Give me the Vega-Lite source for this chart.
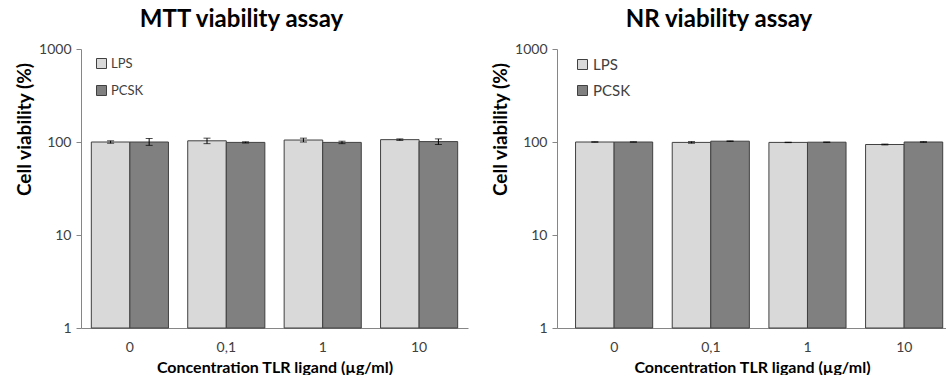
{
  "$schema": "https://vega.github.io/schema/vega-lite/v6.json",
  "padding": {"left": 15, "top": 8, "right": 0, "bottom": 0},
  "config": {
    "font": "Lato",
    "view": {"stroke": null},
    "concat": {"spacing": 23},
    "axis": {"grid": false, "domainColor": "#868686", "tickColor": "#868686", "labelColor": "#404040", "labelFontSize": 14, "titleFontSize": 16, "titleFontWeight": "bold", "titleColor": "#000000"}
  },
  "datasets": {
    "mtt": [
      {"conc": "0", "treat": "LPS", "v": 100, "lo": 97, "hi": 103},
      {"conc": "0", "treat": "PCSK", "v": 100, "lo": 92, "hi": 109},
      {"conc": "0,1", "treat": "LPS", "v": 103, "lo": 96, "hi": 110},
      {"conc": "0,1", "treat": "PCSK", "v": 99, "lo": 97.5, "hi": 100.5},
      {"conc": "1", "treat": "LPS", "v": 105, "lo": 100, "hi": 110},
      {"conc": "1", "treat": "PCSK", "v": 99, "lo": 96, "hi": 102},
      {"conc": "10", "treat": "LPS", "v": 106, "lo": 104, "hi": 108},
      {"conc": "10", "treat": "PCSK", "v": 101, "lo": 94, "hi": 108}
    ],
    "nr": [
      {"conc": "0", "treat": "LPS", "v": 100, "lo": 99.5, "hi": 100.5},
      {"conc": "0", "treat": "PCSK", "v": 100, "lo": 99.7, "hi": 100.3},
      {"conc": "0,1", "treat": "LPS", "v": 99, "lo": 97, "hi": 101},
      {"conc": "0,1", "treat": "PCSK", "v": 102, "lo": 101.2, "hi": 102.8},
      {"conc": "1", "treat": "LPS", "v": 99, "lo": 98.5, "hi": 99.5},
      {"conc": "1", "treat": "PCSK", "v": 99.5, "lo": 99, "hi": 100},
      {"conc": "10", "treat": "LPS", "v": 94, "lo": 93, "hi": 95},
      {"conc": "10", "treat": "PCSK", "v": 100, "lo": 99.2, "hi": 100.8}
    ]
  },
  "resolve": {"scale": {"color": "independent"}, "legend": {"color": "independent"}},
  "hconcat": [
    {
      "width": 387,
      "height": 279,
      "title": {"text": "MTT viability assay", "frame": "bounds", "anchor": "middle", "fontSize": 24, "fontWeight": "bold", "offset": 10, "color": "#000000"},
      "data": {"name": "mtt"},
      "encoding": {
        "x": {"field": "conc", "type": "nominal", "sort": ["0", "0,1", "1", "10"], "scale": {"paddingInner": 0.2, "paddingOuter": 0.107},
              "axis": {"title": "Concentration TLR ligand (µg/ml)", "labelAngle": 0, "ticks": false, "labelPadding": 12, "titlePadding": 5}},
        "xOffset": {"field": "treat", "type": "nominal", "sort": ["LPS", "PCSK"], "scale": {"paddingInner": 0, "paddingOuter": 0}}
      },
      "layer": [
        {
          "mark": {"type": "bar", "stroke": "#404040", "strokeWidth": 1},
          "encoding": {
            "y": {"field": "v", "type": "quantitative", "scale": {"type": "log", "domain": [1, 1000]},
                  "axis": {"values": [1, 10, 100, 1000], "format": "d", "title": "Cell viability (%)", "titleFontSize": 19, "tickSize": 5, "labelPadding": 5, "titleX": -47, "titleY": 80}},
            "y2": {"datum": 1},
            "color": {"field": "treat", "type": "nominal", "sort": ["LPS", "PCSK"], "scale": {"domain": ["LPS", "PCSK"], "range": ["#d9d9d9", "#808080"]},
                      "legend": {"title": null, "orient": "none", "legendX": 14, "legendY": 8, "symbolType": "square", "symbolSize": 100, "symbolStrokeColor": "#404040", "symbolStrokeWidth": 1, "labelFontSize": 13, "labelColor": "#404040", "rowPadding": 12, "padding": 0, "labelOffset": 3}}
          }
        },
        {
          "mark": {"type": "rule", "color": "#000000", "strokeWidth": 1},
          "encoding": {"y": {"field": "lo", "type": "quantitative"}, "y2": {"field": "hi"}}
        },
        {
          "mark": {"type": "tick", "color": "#000000", "size": 7, "thickness": 1},
          "encoding": {"y": {"field": "lo", "type": "quantitative"}}
        },
        {
          "mark": {"type": "tick", "color": "#000000", "size": 7, "thickness": 1},
          "encoding": {"y": {"field": "hi", "type": "quantitative"}}
        }
      ]
    },
    {
      "width": 390,
      "height": 279,
      "title": {"text": "NR viability assay", "frame": "bounds", "anchor": "middle", "fontSize": 24, "fontWeight": "bold", "offset": 10, "color": "#000000"},
      "data": {"name": "nr"},
      "encoding": {
        "x": {"field": "conc", "type": "nominal", "sort": ["0", "0,1", "1", "10"], "scale": {"paddingInner": 0.2, "paddingOuter": 0.117, "align": 0.82},
              "axis": {"title": "Concentration TLR ligand (µg/ml)", "labelAngle": 0, "ticks": false, "labelPadding": 12, "titlePadding": 5}},
        "xOffset": {"field": "treat", "type": "nominal", "sort": ["LPS", "PCSK"], "scale": {"paddingInner": 0, "paddingOuter": 0}}
      },
      "layer": [
        {
          "mark": {"type": "bar", "stroke": "#404040", "strokeWidth": 1},
          "encoding": {
            "y": {"field": "v", "type": "quantitative", "scale": {"type": "log", "domain": [1, 1000]},
                  "axis": {"values": [1, 10, 100, 1000], "format": "d", "title": "Cell viability (%)", "titleFontSize": 19, "tickSize": 5, "labelPadding": 5, "titleX": -47, "titleY": 80}},
            "y2": {"datum": 1},
            "color": {"field": "treat", "type": "nominal", "sort": ["LPS", "PCSK"], "scale": {"domain": ["LPS", "PCSK"], "range": ["#d9d9d9", "#808080"]},
                      "legend": {"title": null, "orient": "none", "legendX": 18, "legendY": 8, "symbolType": "square", "symbolSize": 100, "symbolStrokeColor": "#404040", "symbolStrokeWidth": 1, "labelFontSize": 15, "labelColor": "#404040", "rowPadding": 10, "padding": 0, "labelOffset": 3}}
          }
        },
        {
          "mark": {"type": "rule", "color": "#000000", "strokeWidth": 1},
          "encoding": {"y": {"field": "lo", "type": "quantitative"}, "y2": {"field": "hi"}}
        },
        {
          "mark": {"type": "tick", "color": "#000000", "size": 7, "thickness": 1},
          "encoding": {"y": {"field": "lo", "type": "quantitative"}}
        },
        {
          "mark": {"type": "tick", "color": "#000000", "size": 7, "thickness": 1},
          "encoding": {"y": {"field": "hi", "type": "quantitative"}}
        }
      ]
    }
  ]
}
